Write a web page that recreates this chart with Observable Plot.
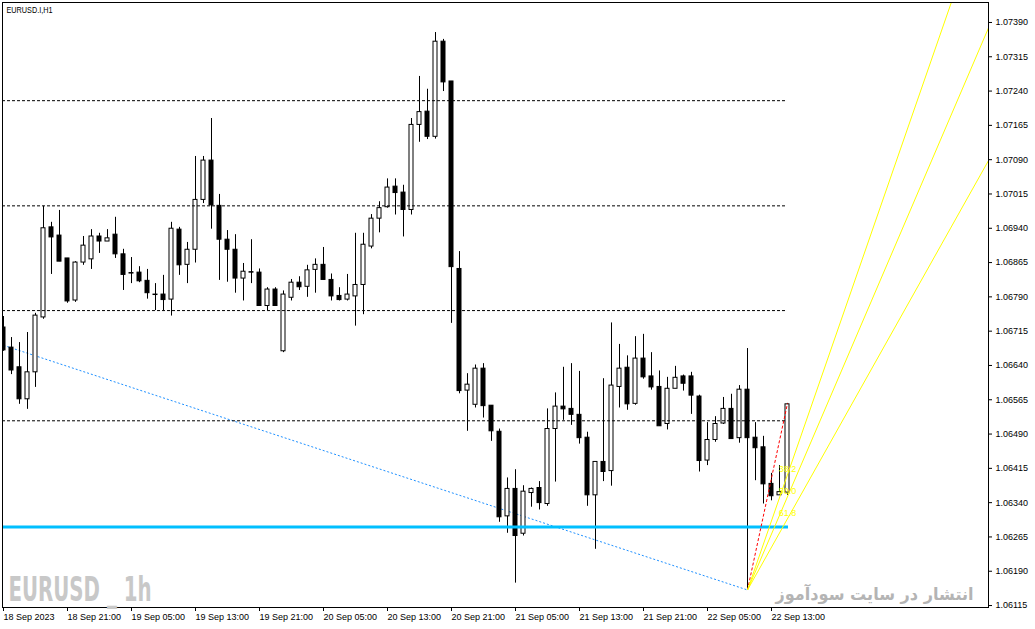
<!DOCTYPE html>
<html><head><meta charset="utf-8">
<script src="https://cdn.jsdelivr.net/npm/d3@7"></script>
<script src="https://cdn.jsdelivr.net/npm/@observablehq/plot@0.6"></script>
<style>body{margin:0;background:#fff;overflow:hidden}</style>
</head><body><div id="chart"></div>
<script>
// EURUSD.I H1, 18 Sep 2023 13:00 -> 22 Sep 2023 15:00 (one bar per hour)
const open = [1.06723,1.06679,1.06636,1.06566,1.06625,1.06745,1.06942,1.06924,1.06874,1.06782,
1.06865,1.06872,1.06922,1.06911,1.06926,1.06883,1.06842,1.06843,1.06825,1.06795,
1.06795,1.06784,1.06937,1.06860,1.06893,1.07002,1.07088,1.06989,1.06915,1.06893,
1.06830,1.06844,1.06843,1.06770,1.06806,1.06671,1.06788,1.06821,1.06812,1.06849,
1.06860,1.06827,1.06792,1.06784,1.06791,1.06816,1.06900,1.06961,1.06986,1.07031,
1.07018,1.06980,1.07166,1.07195,1.07140,1.07348,1.07261,1.06851,1.06585,1.06554,
1.06633,1.06552,1.06495,1.06310,1.06370,1.06272,1.06361,1.06372,1.06337,1.06501,
1.06550,1.06545,1.06532,1.06482,1.06356,1.06429,1.06409,1.06593,1.06635,1.06556,
1.06655,1.06616,1.06593,1.06512,1.06589,1.06616,1.06616,1.06572,1.06432,1.06477,
1.06513,1.06545,1.06481,1.06587,1.06482,1.06461,1.06381,1.06356,1.06362];
const high = [1.06747,1.06701,1.06690,1.06712,1.06754,1.06988,1.06953,1.06979,1.06874,1.06867,
1.06922,1.06937,1.06929,1.06937,1.06964,1.06894,1.06876,1.06856,1.06850,1.06819,
1.06837,1.06953,1.06942,1.06909,1.07097,1.07097,1.07180,1.07014,1.06935,1.06926,
1.06863,1.06915,1.06851,1.06810,1.06810,1.06803,1.06828,1.06834,1.06859,1.06873,
1.06898,1.06840,1.06810,1.06839,1.06929,1.06929,1.06970,1.06998,1.07048,1.07048,
1.07034,1.07180,1.07272,1.07244,1.07368,1.07353,1.07261,1.06889,1.06622,1.06641,
1.06644,1.06552,1.06501,1.06394,1.06412,1.06377,1.06372,1.06386,1.06545,1.06580,
1.06636,1.06644,1.06627,1.06494,1.06429,1.06611,1.06733,1.06686,1.06661,1.06703,
1.06708,1.06668,1.06628,1.06614,1.06638,1.06619,1.06625,1.06575,1.06515,1.06528,
1.06570,1.06577,1.06596,1.06677,1.06515,1.06485,1.06404,1.06421,1.06557];
const low = [1.06671,1.06620,1.06555,1.06544,1.06592,1.06741,1.06839,1.06867,1.06776,1.06778,
1.06859,1.06850,1.06885,1.06911,1.06874,1.06804,1.06819,1.06821,1.06785,1.06760,
1.06760,1.06748,1.06837,1.06819,1.06864,1.06994,1.06938,1.06826,1.06822,1.06798,
1.06781,1.06819,1.06770,1.06760,1.06770,1.06668,1.06781,1.06804,1.06789,1.06798,
1.06827,1.06781,1.06781,1.06781,1.06726,1.06751,1.06895,1.06930,1.06984,1.06969,
1.06921,1.06969,1.07128,1.07134,1.07135,1.07239,1.06732,1.06578,1.06496,1.06547,
1.06525,1.06474,1.06297,1.06273,1.06164,1.06267,1.06330,1.06324,1.06332,1.06385,
1.06520,1.06509,1.06468,1.06332,1.06238,1.06386,1.06376,1.06547,1.06542,1.06553,
1.06610,1.06586,1.06507,1.06499,1.06589,1.06584,1.06533,1.06407,1.06421,1.06472,
1.06511,1.06479,1.06470,1.06149,1.06388,1.06337,1.06344,1.06356,1.06356];
const close = [1.06673,1.06629,1.06566,1.06625,1.06749,1.06940,1.06920,1.06867,1.06780,1.06865,
1.06902,1.06922,1.06911,1.06918,1.06883,1.06838,1.06841,1.06824,1.06798,1.06794,
1.06783,1.06939,1.06859,1.06893,1.07002,1.07088,1.06990,1.06915,1.06893,1.06830,
1.06845,1.06843,1.06770,1.06806,1.06770,1.06795,1.06821,1.06811,1.06848,1.06860,
1.06827,1.06791,1.06783,1.06795,1.06816,1.06904,1.06961,1.06984,1.07029,1.07017,
1.06980,1.07166,1.07194,1.07140,1.07348,1.07259,1.06855,1.06584,1.06598,1.06633,
1.06551,1.06496,1.06308,1.06370,1.06267,1.06364,1.06370,1.06339,1.06501,1.06550,
1.06544,1.06532,1.06481,1.06356,1.06429,1.06407,1.06596,1.06633,1.06555,1.06655,
1.06614,1.06592,1.06507,1.06589,1.06613,1.06600,1.06574,1.06431,1.06477,1.06512,
1.06545,1.06479,1.06587,1.06481,1.06459,1.06380,1.06354,1.06363,1.06555];

const xTickIndex = [0,8,16,24,32,40,48,56,64,72,80,88,96];
const xTickLabels = ["18 Sep 2023","18 Sep 21:00","19 Sep 05:00","19 Sep 13:00","19 Sep 21:00",
"20 Sep 05:00","20 Sep 13:00","20 Sep 21:00","21 Sep 05:00","21 Sep 13:00","21 Sep 21:00",
"22 Sep 05:00","22 Sep 13:00"];
const priceTicks = [1.06115,1.06190,1.06265,1.06340,1.06415,1.06490,1.06565,1.06640,1.06715,
1.06790,1.06865,1.06940,1.07015,1.07090,1.07165,1.07240,1.07315,1.07390];

const hLines = [1.07219,1.06989,1.06760,1.06519];
const supportLevel = [1.06287];
const trendStart = {i: 0, price: 1.06684};
const trendEnd = {i: 93, price: 1.06149};
const fanStart = {i: 93, price: 1.06149};
const fanEnd = {i: 98, price: 1.06557};
const fanLevels = [38.2, 50.0, 61.8];

const xDomain = [-0.125, 123.125];
const yDomain = [1.061107, 1.074337];

const bars = open.map((o, i) => ({i, o, h: high[i], l: low[i], c: close[i]}));
const lastI = bars.length - 1;
const bulls = bars.filter(d => d.c >= d.o);
const bears = bars.filter(d => d.c < d.o);
const labelMap = new Map(xTickIndex.map((d, k) => [d, xTickLabels[k]]));

const fanLines = fanLevels.map(r => {
  const p = fanEnd.price - r / 100 * (fanEnd.price - fanStart.price);
  const slope = (p - fanStart.price) / (fanEnd.i - fanStart.i);
  return {r, p, x1: fanStart.i, y1: fanStart.price, x2: xDomain[1], y2: fanStart.price + slope * (xDomain[1] - fanStart.i)};
});

const bodyTop = d => Math.max(d.o, d.c) + (d.o === d.c ? 0.00001 : 0);
const bodyBot = d => Math.min(d.o, d.c);

const chart = Plot.plot({
  width: 1035, height: 629,
  marginLeft: 2, marginTop: 2, marginRight: 47, marginBottom: 22,
  x: {domain: xDomain},
  y: {domain: yDomain},
  style: {fontFamily: "'Liberation Sans', Arial, sans-serif", fontSize: "9px", background: "white", color: "black"},
  marks: [
    Plot.link([{a: trendStart, b: trendEnd}], {x1: d => d.a.i, y1: d => d.a.price, x2: d => d.b.i, y2: d => d.b.price,
      stroke: "#1e90ff", strokeWidth: 1, strokeDasharray: "2,2", clip: true}),
    Plot.ruleX(bars, {x: "i", y1: "l", y2: "h", stroke: "black", strokeWidth: 1, clip: true}),
    Plot.rect(bulls, {x1: d => d.i - 0.25, x2: d => d.i + 0.25, y1: bodyBot, y2: bodyTop,
      fill: "white", stroke: "black", strokeWidth: 1, clip: true}),
    Plot.rect(bears, {x1: d => d.i - 0.25, x2: d => d.i + 0.25, y1: bodyBot, y2: bodyTop,
      fill: "black", stroke: "black", strokeWidth: 1, clip: true}),
    Plot.ruleY(hLines, {y: d => d, x1: () => xDomain[0], x2: () => lastI, stroke: "black", strokeWidth: 1, strokeDasharray: "3,2"}),
    Plot.ruleY(supportLevel, {y: d => d, x1: () => xDomain[0], x2: () => lastI + 0.125, stroke: "#00bfff", strokeWidth: 3}),
    Plot.link([{a: fanStart, b: fanEnd}], {x1: d => d.a.i, y1: d => d.a.price, x2: d => d.b.i, y2: d => d.b.price,
      stroke: "red", strokeWidth: 1, strokeDasharray: "3,2"}),
    Plot.link(fanLines, {x1: "x1", y1: "y1", x2: "x2", y2: "y2", stroke: "#ffff00", strokeWidth: 1, clip: true}),
    Plot.text(fanLines, {x: () => fanEnd.i, y: "p", text: d => d.r.toFixed(1), fill: "#ffff00", fontSize: 9,
      textAnchor: "middle", lineAnchor: "bottom", dy: -3}),
    Plot.frame({stroke: "black"}),
    Plot.axisY({ticks: priceTicks, anchor: "right", tickSize: 3, tickPadding: 4, tickFormat: d => d.toFixed(5), label: null, fontSize: 9}),
    Plot.axisX({ticks: xTickIndex, anchor: "bottom", tickSize: 4, tickPadding: 2, textAnchor: "start", tickFormat: d => labelMap.get(d), label: null, fontSize: 9}),
    Plot.text(["EURUSD.I,H1"], {text: d => d, frameAnchor: "top-left", dx: 4, dy: 4, textAnchor: "start", lineAnchor: "top", fontSize: 9, fill: "black"}),
    Plot.text(["EURUSD _ 1h"], {text: d => d, frameAnchor: "bottom-left", dx: 6, dy: -7, textAnchor: "start", lineAnchor: "bottom",
      fontSize: 33, fontWeight: "bold", fill: "#c8c8c8", fontFamily: "'DejaVu Sans Condensed','DejaVu Sans',sans-serif"}),
    Plot.text(["انتشار در سایت سودآموز"], {text: d => d, frameAnchor: "bottom-right", dx: -15, dy: -8, textAnchor: "end", lineAnchor: "bottom",
      fontSize: 17, fontWeight: "bold", fill: "#b4b4b4", fontFamily: "'DejaVu Sans',sans-serif"})
  ]
});
document.getElementById("chart").appendChild(chart);
for (const t of chart.querySelectorAll("text")) {
  if (t.textContent === "EURUSD _ 1h") { t.setAttribute("textLength", 143); t.setAttribute("lengthAdjust", "spacingAndGlyphs"); }
  if (t.textContent === "EURUSD.I,H1") { t.setAttribute("textLength", 46); t.setAttribute("lengthAdjust", "spacingAndGlyphs"); }
  if (t.textContent === "انتشار در سایت سودآموز") { t.setAttribute("textLength", 198); t.setAttribute("lengthAdjust", "spacingAndGlyphs"); }
}
</script>
</body></html>
